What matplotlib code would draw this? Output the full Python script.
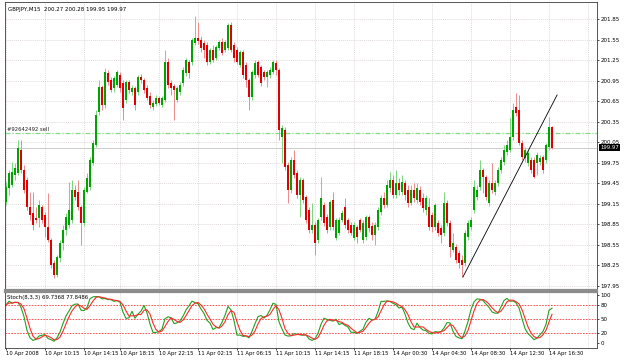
import numpy as np
import pandas as pd
import matplotlib
matplotlib.use("Agg")
import matplotlib.pyplot as plt
from matplotlib.transforms import blended_transform_factory

# chart texts
symbol_text = "GBPJPY,M15  200.27 200.28 199.95 199.97"
stoch_text = "Stoch(8,3,3) 69.7368 77.8486"
order_label = "#92642492 sell"
order_price = 200.18
bid_price = 199.97

# M15 candles
opens = [
    199.18, 199.38, 199.43, 199.57, 199.60, 199.94, 199.64, 199.50, 199.10, 199.02,
    198.94, 198.94, 199.10, 198.99, 198.81, 198.62, 198.29, 198.11, 198.36, 198.58,
    198.77, 198.84, 198.91, 199.35, 199.32, 199.10, 198.87, 199.32, 199.40, 199.75,
    200.01, 200.49,
    200.86, 200.59, 201.06, 200.96, 200.84, 200.89, 201.03, 200.92, 200.67, 200.93,
    200.78, 200.84, 200.78, 201.00, 200.96, 200.84, 200.73, 200.56, 200.61, 200.70,
    200.59, 200.67, 201.22, 200.92, 200.87, 200.67, 200.78, 200.92, 201.06, 201.22,
    201.22, 201.50, 201.57, 201.54, 201.50, 201.47, 201.22, 201.40, 201.28, 201.43,
    201.51, 201.40, 201.43, 201.76, 201.47, 201.40, 201.18, 201.37, 201.18, 200.96,
    200.71, 201.03, 201.22, 201.15, 201.08, 201.00, 201.03, 201.08, 201.21, 201.10,
    200.13, 200.23, 199.72, 199.35, 199.79, 199.60, 199.28, 199.50, 199.25, 199.06,
    198.77, 198.84, 198.62, 198.96, 199.13, 198.96, 198.81, 199.21, 198.65, 198.72,
    198.91, 199.10, 198.91, 198.84, 198.65, 198.81, 198.91, 198.62, 198.67,
    198.96, 198.83, 198.69, 198.81, 199.03, 199.24, 199.13, 199.38, 199.50, 199.28,
    199.45, 199.32, 199.45, 199.35, 199.16, 199.35, 199.21, 199.35, 199.24, 199.06,
    199.10, 198.99, 198.81, 198.87, 198.80, 198.72, 199.16, 198.87, 198.48, 198.52,
    198.43, 198.33, 198.29, 198.67, 198.81, 199.06, 199.25, 199.40, 199.64, 199.54,
    199.16, 199.45, 199.32, 199.45, 199.64, 199.76, 199.91, 199.94, 200.13, 200.56,
    200.52, 200.04, 199.82, 199.75, 199.79, 199.79, 199.75, 199.76, 199.83, 199.79,
    199.98, 200.27,
]
highs = [
    199.47, 199.64, 199.76, 199.75, 200.08, 200.08, 199.72, 199.54, 199.32, 199.32,
    199.10, 199.21, 199.13, 199.03, 199.31, 198.65, 198.33, 198.40, 198.62, 198.84,
    199.02, 199.47, 199.50, 199.43, 199.50, 199.13, 199.40, 199.60, 199.83, 200.08,
    200.52, 200.96,
    200.89, 201.13, 201.10, 201.00, 201.02, 201.10, 201.08, 200.96, 200.96, 200.96,
    200.89, 200.87, 201.03, 201.05, 200.99, 200.89, 200.78, 200.67, 200.74, 200.73,
    200.73, 201.40, 201.28, 200.96, 200.90, 200.87, 200.93, 201.15, 201.28, 201.25,
    201.57, 201.89, 201.81, 201.60, 201.54, 201.51, 201.43, 201.47, 201.47, 201.54,
    201.57, 201.54, 201.79, 201.81, 201.51, 201.44, 201.40, 201.40, 201.22, 200.99,
    201.10, 201.25, 201.25, 201.18, 201.10, 201.10, 201.15, 201.25, 201.25, 201.13,
    200.30, 200.27, 199.76, 199.83, 199.94, 199.64, 199.54, 199.53, 199.28, 199.10,
    199.16, 198.89, 198.94, 199.54, 199.18, 199.00, 199.21, 199.32, 198.94, 198.96,
    199.06, 199.24, 198.94, 198.89, 198.89, 198.84, 198.94, 198.91, 198.99,
    198.99, 198.89, 198.89, 199.10, 199.28, 199.32, 199.50, 199.62, 199.57, 199.64,
    199.53, 199.57, 199.50, 199.43, 199.43, 199.45, 199.45, 199.41, 199.31, 199.28,
    199.24, 199.03, 199.16, 198.91, 198.84, 199.32, 199.21, 198.91, 198.72, 198.56,
    198.48, 198.40, 198.77, 198.91, 198.96, 199.50, 199.43, 199.79, 199.67, 199.57,
    199.50, 199.75, 199.50, 199.69, 199.83, 200.01, 200.08, 200.40, 200.62, 200.77,
    200.74, 200.08, 199.98, 199.94, 199.83, 199.83, 199.91, 199.86, 199.86, 200.04,
    200.42, 200.28,
]
lows = [
    199.13, 199.28, 199.40, 199.50, 199.57, 199.60, 199.31, 199.06, 198.91, 198.77,
    198.87, 198.81, 198.87, 198.67, 198.59, 198.21, 198.07, 198.08, 198.30, 198.48,
    198.69, 198.80, 198.87, 199.21, 199.06, 198.55, 198.83, 199.31, 199.35, 199.72,
    199.98, 200.45,
    200.52, 200.55, 200.89, 200.78, 200.78, 200.86, 200.78, 200.37, 200.62, 200.77,
    200.74, 200.52, 200.74, 200.92, 200.77, 200.67, 200.55, 200.52, 200.58, 200.59,
    200.56, 200.64, 200.84, 200.74, 200.37, 200.64, 200.74, 200.87, 201.02, 200.99,
    201.18, 201.47, 201.49, 201.37, 201.28, 201.18, 201.19, 201.22, 201.25, 201.40,
    201.32, 201.37, 201.40, 201.37, 201.22, 201.19, 201.15, 200.99, 200.86, 200.52,
    200.67, 200.99, 201.00, 200.87, 200.96, 200.86, 200.99, 201.05, 201.03, 200.08,
    199.75, 199.64, 199.16, 199.31, 199.53, 199.24, 198.96, 199.16, 198.87, 198.72,
    198.72, 198.40, 198.58, 198.91, 198.83, 198.72, 198.77, 198.77, 198.62, 198.69,
    198.89, 198.80, 198.72, 198.69, 198.62, 198.58, 198.74, 198.58, 198.62,
    198.74, 198.62, 198.55, 198.77, 198.99, 199.09, 199.10, 199.32, 199.24, 199.24,
    199.28, 199.28, 199.21, 199.10, 199.13, 199.18, 199.16, 199.13, 199.03, 198.99,
    198.77, 198.74, 198.77, 198.68, 198.58, 198.68, 198.83, 198.37, 198.45, 198.29,
    198.21, 198.08, 198.24, 198.62, 198.77, 199.02, 199.21, 199.35, 199.31, 199.21,
    199.12, 199.31, 199.28, 199.41, 199.60, 199.72, 199.86, 199.91, 200.08, 200.43,
    200.01, 199.79, 199.76, 199.70, 199.60, 199.53, 199.57, 199.72, 199.60, 199.75,
    199.94, 199.95,
]
closes = [
    199.40, 199.60, 199.62, 199.67, 199.97, 199.64, 199.35, 199.10, 198.99, 198.84,
    198.91, 199.13, 198.91, 198.81, 198.62, 198.26, 198.11, 198.37, 198.58, 198.77,
    198.96, 199.06, 199.35, 199.25, 199.10, 198.87, 199.35, 199.53, 199.79, 200.04,
    200.45, 200.86,
    200.59, 201.08, 200.93, 200.81, 200.99, 201.08, 200.84, 200.55, 200.93, 200.81,
    200.84, 200.59, 201.00, 200.96, 200.81, 200.70, 200.59, 200.62, 200.70, 200.62,
    200.70, 201.22, 200.89, 200.84, 200.81, 200.84, 200.89, 201.10, 201.25, 201.06,
    201.54, 201.57, 201.53, 201.43, 201.40, 201.22, 201.40, 201.25, 201.44, 201.51,
    201.35, 201.51, 201.76, 201.40, 201.28, 201.22, 201.37, 201.03, 200.96, 200.71,
    201.08, 201.21, 201.03, 200.92, 201.00, 201.08, 201.10, 201.22, 201.10, 200.23,
    200.26, 199.69, 199.35, 199.79, 199.57, 199.28, 199.50, 199.21, 198.91, 198.77,
    198.84, 198.58, 198.91, 199.24, 198.87, 198.77, 199.18, 198.81, 198.91, 198.91,
    199.02, 198.84, 198.77, 198.72, 198.84, 198.67, 198.77, 198.87, 198.96,
    198.80, 198.69, 198.84, 199.06, 199.24, 199.13, 199.43, 199.50, 199.28, 199.45,
    199.35, 199.47, 199.28, 199.16, 199.35, 199.24, 199.38, 199.18, 199.09, 199.24,
    198.81, 198.81, 199.13, 198.72, 198.69, 199.16, 198.87, 198.52, 198.58, 198.33,
    198.29, 198.26, 198.72, 198.87, 198.91, 199.40, 199.35, 199.64, 199.54, 199.25,
    199.45, 199.35, 199.45, 199.64, 199.79, 199.94, 200.01, 200.13, 200.52, 200.48,
    200.04, 199.83, 199.94, 199.89, 199.64, 199.54, 199.86, 199.82, 199.64, 200.01,
    200.27, 199.97,
]

time_labels = ["10 Apr 2008", "10 Apr 10:15", "10 Apr 14:15", "10 Apr 18:15",
               "10 Apr 22:15", "11 Apr 02:15", "11 Apr 06:15", "11 Apr 10:15",
               "11 Apr 14:15", "11 Apr 18:15", "14 Apr 00:30", "14 Apr 04:30",
               "14 Apr 08:30", "14 Apr 12:30", "14 Apr 16:30"]
time_label_bars = [0, 13, 26, 38, 51, 64, 77, 90, 103, 116, 129, 142, 155, 168, 181]
grid_bars = time_label_bars + [194]
price_ticks = [197.95, 198.25, 198.55, 198.85, 199.15, 199.45, 199.75,
               200.05, 200.35, 200.65, 200.95, 201.25, 201.55, 201.85]
stoch_levels = [20, 50, 80]
stoch_ticks = [0, 20, 50, 80, 100]
trend_bars = [152.3, 183.7]
trend_prices = [198.08, 200.74]

o = np.array(opens)
h = np.array(highs)
l = np.array(lows)
c = np.array(closes)
idx = np.arange(len(c))

# Stochastic(8,3,3) from the candles
hh = pd.Series(h).rolling(8, min_periods=1).max()
ll = pd.Series(l).rolling(8, min_periods=1).min()
num = (pd.Series(c) - ll).rolling(3, min_periods=1).sum()
den = (hh - ll).rolling(3, min_periods=1).sum()
k_line = 100 * num / den
d_line = k_line.rolling(3, min_periods=1).mean()

fig = plt.figure(figsize=(6.25, 3.6), dpi=100)
ax = fig.add_axes([5 / 625, 1 - 290 / 360, 592 / 625, 288 / 360])
ax2 = fig.add_axes([5 / 625, 1 - 348 / 360, 592 / 625, 56 / 360])

grid_kw = dict(color="#d6cccc", lw=0.5, dashes=(1.5, 1.5), zorder=0)
for b in grid_bars:
    ax.axvline(b, **grid_kw)
    ax2.axvline(b, **grid_kw)
for p in price_ticks:
    ax.axhline(p, **grid_kw)

# candles
up = c >= o
body_col = np.where(up, "#00a400", "#e00000")
wick_col = np.where(up, "#7cd47c", "#ee8a8a")
ax.vlines(idx, l, h, colors=wick_col, lw=0.7, zorder=2)
ax.bar(idx, np.maximum(np.abs(c - o), 0.01), bottom=np.minimum(o, c),
       width=0.7, color=body_col, linewidth=0, zorder=3)

ax.axhline(order_price, color="#7fdc7f", lw=0.9, dashes=(4, 1.5, 1, 1.5), zorder=1)
ax.axhline(bid_price, color="#c4c4c4", lw=0.6, zorder=1)
ax.plot(trend_bars, trend_prices, color="black", lw=0.6, zorder=4)

ax.set_xlim(-0.33, 197)
ax.set_ylim(197.891, 202.098)
ax.set_xticks([])
ax.yaxis.tick_right()
ax.set_yticks(price_ticks, [f"{p:.2f}" for p in price_ticks])

trans = blended_transform_factory(ax.transAxes, ax.transData)
ax.text(0.003, order_price + 0.02, order_label, transform=trans, fontsize=3.8,
        va="bottom", ha="left", color="#202020")
ax.text(1.005, bid_price, "199.97", transform=trans, fontsize=3.9, color="white",
        va="center", ha="left",
        bbox=dict(facecolor="black", edgecolor="none", pad=0.8))
fig.text(8 / 625, 1 - 9 / 360, symbol_text, fontsize=4, va="center", ha="left")

# stochastic panel
for lv in stoch_levels:
    ax2.axhline(lv, color="#ff3b3b", lw=0.6, dashes=(2, 1.5))
ax2.plot(idx, k_line, color="#21a121", lw=0.8)
ax2.plot(idx, d_line, color="#ff2a2a", lw=0.8)
ax2.set_xlim(-0.33, 197)
ax2.set_ylim(-10.4, 106.3)
ax2.yaxis.tick_right()
ax2.set_yticks(stoch_ticks, [str(t) for t in stoch_ticks])
ax2.set_xticks(time_label_bars, time_labels, ha="left")
fig.text(7 / 625, 1 - 298 / 360, stoch_text, fontsize=3.9, va="center", ha="left")

for a in (ax, ax2):
    a.tick_params(axis="y", labelsize=4, length=1.5, width=0.5, pad=1)
    a.tick_params(axis="x", labelsize=3.8, length=1.5, width=0.5, pad=1)
    for s in a.spines.values():
        s.set_linewidth(0.6)
        s.set_color("#3c3c3c")
ax.spines["bottom"].set_color("#8c8c8c")
ax.spines["bottom"].set_linewidth(1.6)
ax2.spines["top"].set_color("#8c8c8c")
ax2.spines["top"].set_linewidth(1.6)

fig.savefig("out.png", dpi=100)
